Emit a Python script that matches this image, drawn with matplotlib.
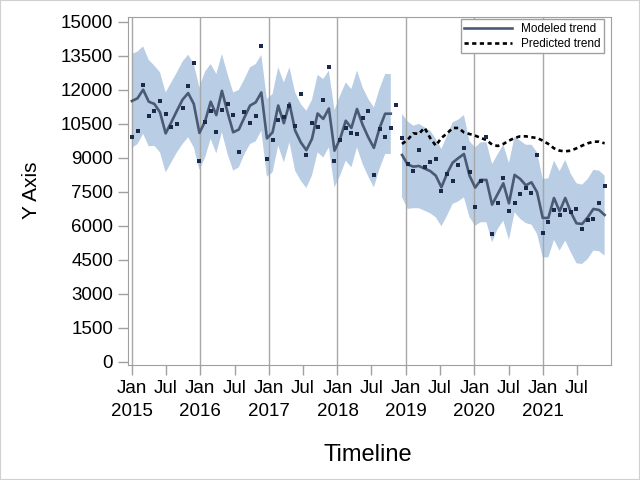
import numpy as np
import pandas as pd
import matplotlib
matplotlib.use('Agg')
import matplotlib.pyplot as plt
import matplotlib.dates as mdates
from matplotlib.patches import Rectangle

plt.rcParams['font.family'] = ['Liberation Sans', 'DejaVu Sans']

# observations every 30 days from Jan 2015 (85 points)
dates = pd.date_range('2015-01-01', periods=85, freq='30D')

observed = [9913, 10178, 12208, 10840, 11074, 11500, 10928, 10355, 10487, 11193,
            12164, 13178, 8868, 10590, 11074, 10148, 11105, 11370, 10884, 9265,
            11017, 10531, 10840, 13912, 8943, 9781, 10664, 10780, 11280, 10399,
            11810, 9118, 10531, 10355, 11546, 13002, 8855, 9795, 10310, 10090,
            10046, 10752, 11060, 8237, 10266, 9913, 10310, 11325, 9869, 8705,
            8413, 9340, 8574, 8808, 8943, 7531, 8280, 7972, 8678, 9428,
            8370, 6825, 7986, 9913, 5634, 7002, 8105, 6649, 7002, 7398,
            7663, 7443, 9119, 5678, 6164, 6693, 6472, 6693, 6605, 6737,
            5855, 6252, 6296, 7002, 7752]

nan = np.nan
# modeled trend, gap at point 47
modeled = [11500, 11620, 12000, 11470, 11370, 11000, 10070, 10560, 11070, 11560,
           11850, 11370, 10090, 10600, 11470, 10880, 11950, 11000, 10120, 10240,
           10780, 11300, 11440, 11880, 9850, 10120, 11300, 10520, 11400, 10200,
           9680, 9330, 9830, 10950, 10710, 11170, 9310, 9830, 10630, 10310,
           11150, 10450, 9900, 9430, 10300, 10940, 10940, nan, 9119, 8700,
           8603, 8632, 8520, 8410, 8206, 7692, 8300, 8780, 8980, 9163,
           8200, 7680, 8016, 8016, 6927, 7398, 7868, 6985, 8240, 8060,
           7780, 7912, 7471, 6340, 6340, 7221, 6633, 7221, 6589, 6103,
           6074, 6368, 6737, 6692, 6471]

upper = [13575, 13680, 13910, 13310, 13060, 12765, 11880, 12320, 12765, 13240,
         13545, 13130, 12100, 12800, 13130, 12690, 13575, 12690, 11880, 11990,
         12470, 12990, 13130, 13530, 11590, 11810, 12990, 12320, 12990, 11880,
         11370, 11070, 11550, 12650, 12470, 12840, 11100, 11740, 12320, 12030,
         12840, 12100, 11590, 11220, 12030, 12690, 12690, nan, 10930, 10600,
         10410, 10490, 10340, 10190, 9830, 9380, 9970, 10560, 10680, 10880,
         9720, 9455, 9680, 9680, 8720, 9150, 9570, 8760, 9930, 9750,
         9570, 9570, 9235, 8060, 8090, 8870, 8400, 8900, 8280, 7870,
         7810, 8060, 8460, 8430, 8210]

lower = [9430, 9600, 10050, 9500, 9520, 9235, 8350, 8790, 9235, 9600,
         9900, 9455, 8460, 9000, 9830, 9190, 10120, 9160, 8430, 8570,
         9160, 9600, 9720, 10190, 8160, 8350, 9530, 8790, 9680, 8430,
         7990, 7660, 8210, 9235, 9010, 9455, 7690, 8210, 8870, 8570,
         9455, 8720, 8170, 7690, 8500, 9160, 9160, nan, 7250, 6740,
         6770, 6770, 6660, 6545, 6370, 5970, 6440, 6960, 7070, 7250,
         6370, 6000, 6150, 6150, 5265, 5855, 6220, 5370, 6590, 6300,
         6110, 6045, 5634, 4600, 4600, 5370, 4900, 5340, 4820, 4340,
         4310, 4530, 4900, 4870, 4680]

# predicted trend starts at point 48
predicted = [nan] * 48 + [
    9605, 9790, 10073, 10050, 10320, 9869, 9530, 9869, 10073, 10310,
    10310, 10117, 10044, 9971, 9869, 9781, 9574, 9516, 9605, 9750,
    9869, 9941, 9941, 9900, 9869, 9750, 9605, 9413, 9309, 9280,
    9309, 9413, 9530, 9633, 9706, 9706, 9633]

years = list(range(2015, 2022))
yticks = list(range(0, 15001, 1500))

fig = plt.figure(figsize=(6.4, 4.8), dpi=100)
ax = fig.add_axes([0.2005, 0.2396, 0.7542, 0.7244])

ax.fill_between(dates, np.array(lower, float), np.array(upper, float),
                color='#B9CDE5', linewidth=0)
for y in years:
    ax.axvline(pd.Timestamp(f'{y}-01-01'), color='#A8A8A8', lw=1, zorder=1.5)
ax.plot(dates, modeled, color='#4B5A74', lw=1.9, label='Modeled trend', zorder=3)
ax.plot(dates, observed, 's', color='#1B2A4A', ms=2.6, mew=0, zorder=4)
ax.plot(dates, predicted, color='black', lw=1.9, ls=(0, (1.6, 1.3)),
        label='Predicted trend', zorder=3)

ax.set_xlim(pd.Timestamp('2014-12-13'), pd.Timestamp('2021-12-29'))
ax.set_ylim(-150, 15195)
ax.set_yticks(yticks)
ax.set_yticklabels([str(v) for v in yticks])

ax.xaxis.set_major_locator(mdates.MonthLocator(bymonth=[1, 7]))
def fmt(x, pos=None):
    d = mdates.num2date(x)
    return f'Jan\n{d.year}' if d.month == 1 else 'Jul'
ax.xaxis.set_major_formatter(plt.FuncFormatter(fmt))

for s in ax.spines.values():
    s.set_color('#A0A0A0')
ax.tick_params(axis='both', colors='#A0A0A0', labelcolor='black',
               labelsize=13.5, length=7, width=1)
ax.tick_params(axis='x', pad=4)
ax.tick_params(axis='y', pad=4)

ax.set_ylabel('Y Axis', fontsize=15)
ax.yaxis.set_label_coords(-0.181, 0.503)
ax.set_xlabel('Timeline', fontsize=17)
ax.xaxis.set_label_coords(0.497, -0.227)

leg = ax.legend(loc='upper right', bbox_to_anchor=(0.9855, 0.9942),
                borderaxespad=0, fontsize=8.5, handlelength=4,
                borderpad=0.3, labelspacing=0.25,
                fancybox=False, framealpha=1, edgecolor='#A0A0A0')
leg.get_frame().set_linewidth(1)

fig.patches.append(Rectangle((0, 0), 1, 1, transform=fig.transFigure,
                             fill=False, edgecolor='#D0D0D0', lw=1.5))

# wider gap between month and year rows
fig.canvas.draw()
for lab in ax.get_xticklabels():
    lab.set_linespacing(1.45)

fig.savefig('out.png', dpi=100)
